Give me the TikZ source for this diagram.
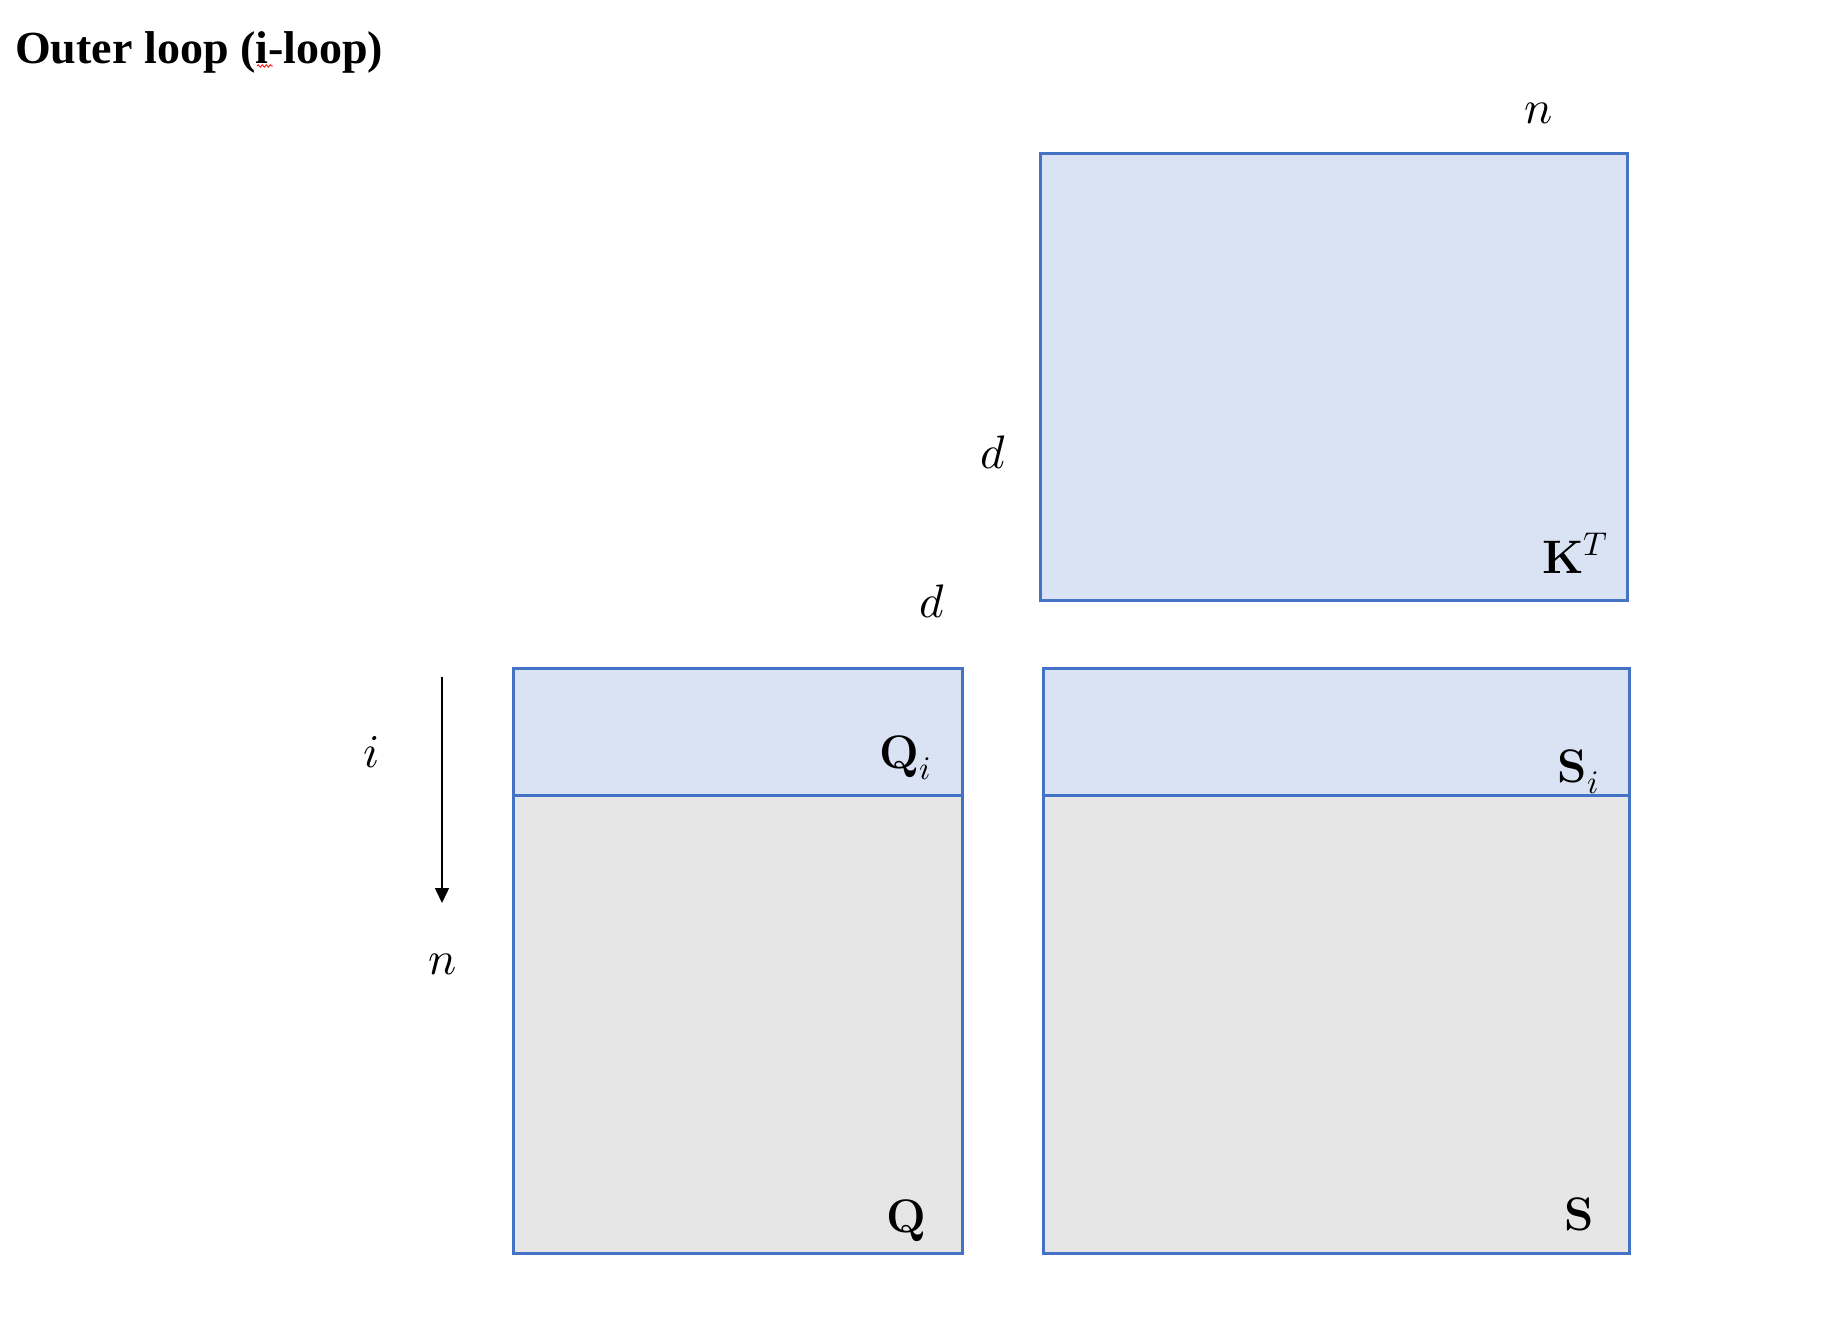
\documentclass[tikz,border=0pt]{standalone}
\usepackage{fontspec}
\usepackage{unicode-math}
\setmathfont{Latin Modern Math}
\newfontfamily\titlefont{Liberation Serif}
\usetikzlibrary{arrows.meta,decorations.pathmorphing}
\definecolor{boxblue}{HTML}{4472C4}
\definecolor{lightblue}{HTML}{DAE3F3}
\definecolor{lightgray}{HTML}{E6E6E6}
\tikzset{
  mat/.style={draw=boxblue, line width=3pt, inner sep=0pt, outer sep=0pt},
  lbl/.style={inner sep=0pt, outer sep=0pt, font=\fontsize{47}{50}\selectfont},
}
\begin{document}
\begin{tikzpicture}[x=1pt,y=-1pt]
\useasboundingbox (0,0) rectangle (1842,1326);
% title
\node[anchor=base west, inner sep=0pt, font=\titlefont\bfseries\fontsize{46}{50}\selectfont] (title) at (15,63) {Outer loop (i-loop)};
\draw[red, line width=0.8pt, decorate, decoration={snake, amplitude=1.2pt, segment length=4pt}] (257,66) -- (273,66);
% matrices
\node[mat, fill=lightblue, minimum width=587pt, minimum height=447pt] (KT) at (1333.5,376.5) {};
\node[mat, fill=lightgray, minimum width=449pt, minimum height=458pt] (Q) at (737.5,1024) {};
\node[mat, fill=lightblue, minimum width=449pt, minimum height=127pt] (Qi) at (737.5,731.5) {};
\node[mat, fill=lightgray, minimum width=586pt, minimum height=458pt] (S) at (1336,1024) {};
\node[mat, fill=lightblue, minimum width=586pt, minimum height=127pt] (Si) at (1336,731.5) {};
% labels
\node[lbl, anchor=base east] (lKT) at (1608,573) {$\mathbf{K}^{T}$};
\node[lbl, anchor=base east] (lQi) at (931,768) {$\mathbf{Q}_{i}$};
\node[lbl, anchor=base east] (lSi) at (1599,782) {$\mathbf{S}_{i}$};
\node[lbl, anchor=base east] (lQ) at (926,1232) {$\mathbf{Q}$};
\node[lbl, anchor=base east] (lS) at (1594,1230) {$\mathbf{S}$};
\node[lbl] (ntop) at (1539,113) {$n$};
\node[lbl] (dmid) at (993,452) {$d$};
\node[lbl] (dtop) at (932,601) {$d$};
\node[lbl] (ilab) at (372,752) {$i$};
\node[lbl] (nlab) at (443,964) {$n$};
% arrow
\coordinate (a1) at (442,677);
\coordinate (a2) at (442,903);
\draw[line width=1.5pt, -{Triangle[length=15pt,width=14pt]}] (a1) -- (a2);
\end{tikzpicture}
\end{document}
